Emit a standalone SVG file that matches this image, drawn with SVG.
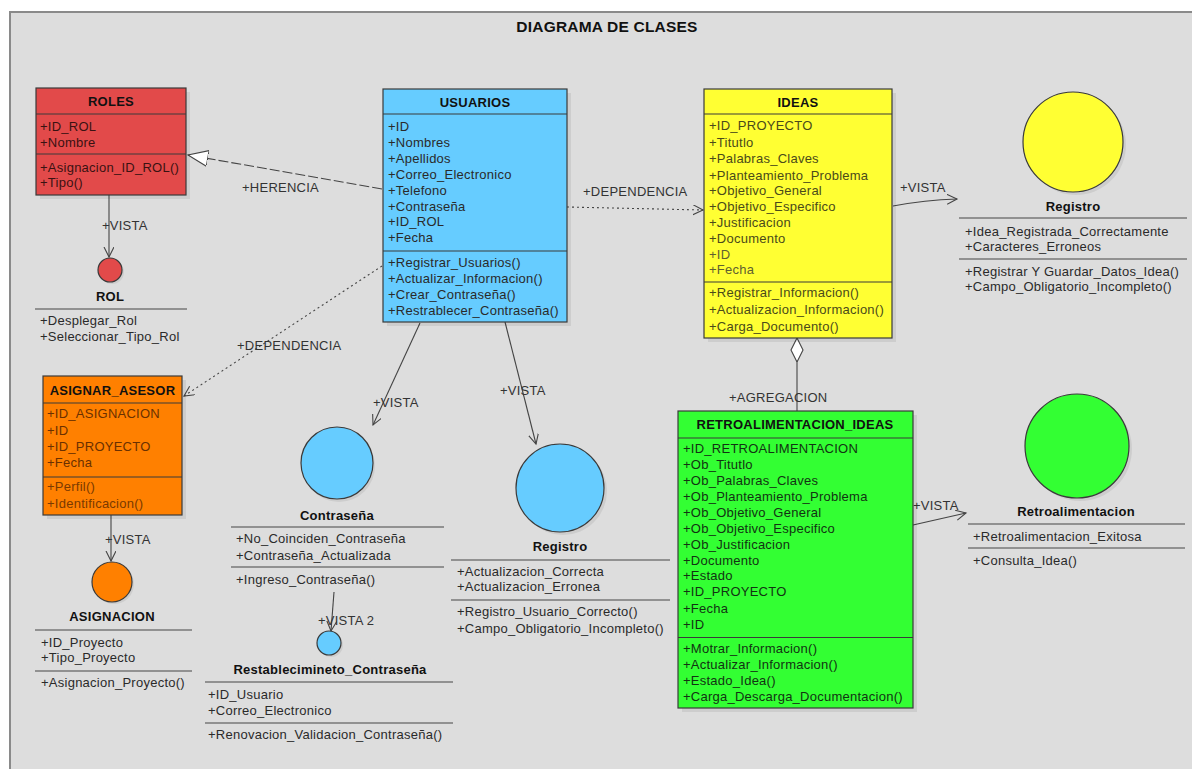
<svg xmlns="http://www.w3.org/2000/svg" width="1192" height="769" viewBox="0 0 1192 769">
<defs>
<style>
text{font-family:"Liberation Sans",Arial,sans-serif;font-size:13px;fill:#2a2a2a;letter-spacing:0.25px}
.h{font-weight:bold;text-anchor:middle;fill:#111}
.lbl{fill:#333}
.box{stroke:#3a3a3a;stroke-width:1.2}
.sep{stroke:#3a3a3a;stroke-width:1.2}
.gl{stroke:#777;stroke-width:1.6}
.sh{fill:#000;opacity:0.07}
.c{stroke:#444;stroke-width:1.1;fill:none}
.dot{stroke-dasharray:2,3}
.dash{stroke-dasharray:10,3}
.red{fill:#e24a4a}.blue{fill:#66ccff}.yel{fill:#ffff33}.ora{fill:#ff8000}.grn{fill:#33ff33}
.ti{fill:#4a4a1a}.tr{fill:#3a1212}.to{fill:#6a3000}.tg{fill:#123312}
</style>
<marker id="open" markerUnits="userSpaceOnUse" markerWidth="14" markerHeight="12" refX="10" refY="5" orient="auto">
<path d="M0,0 L10,5 L0,10" fill="none" stroke="#444" stroke-width="1.1"/>
</marker>
<marker id="tri" markerUnits="userSpaceOnUse" markerWidth="24" markerHeight="20" refX="20" refY="9" orient="auto">
<path d="M0,1 L20,9 L0,17 Z" fill="#fff" stroke="#444" stroke-width="1.1"/>
</marker>
<marker id="dia" markerUnits="userSpaceOnUse" markerWidth="28" markerHeight="16" refX="24" refY="7" orient="auto">
<path d="M0,7 L12,1 L24,7 L12,13 Z" fill="#fff" stroke="#444" stroke-width="1.1"/>
</marker>
</defs>

<rect x="0" y="0" width="1192" height="769" fill="#ffffff"/>
<rect x="10" y="12" width="1190" height="770" fill="#dddddd" stroke="#8a8a8a" stroke-width="2"/>
<text x="607" y="32" class="h" style="font-size:15.5px;letter-spacing:0.2px">DIAGRAMA DE CLASES</text>

<g id="connectors">
<path class="c" d="M109,195 L109,257" marker-end="url(#open)"/>
<path class="c dash" d="M382,189 L188,155" marker-end="url(#tri)"/>
<path class="c dot" d="M382,266 L184,396" marker-end="url(#open)"/>
<path class="c dot" d="M567,207 L703,210" marker-end="url(#open)"/>
<path class="c" d="M420,323 L373,425" marker-end="url(#open)"/>
<path class="c" d="M505,322 L536,444" marker-end="url(#open)"/>
<path class="c" d="M893,206 Q925,200 957,199" marker-end="url(#open)"/>
<path class="c" d="M797,411 L797,338" marker-end="url(#dia)"/>
<path class="c" d="M913,525 L966,513" marker-end="url(#open)"/>
<path class="c" d="M111,515 L111,561" marker-end="url(#open)"/>
<path class="c" d="M334,592 L331,631" marker-end="url(#open)"/>
<text class="lbl" x="102" y="230">+VISTA</text>
<text class="lbl" x="242" y="192">+HERENCIA</text>
<text class="lbl" x="237" y="349.5">+DEPENDENCIA</text>
<text class="lbl" x="105" y="543.5">+VISTA</text>
<text class="lbl" x="373" y="407">+VISTA</text>
<text class="lbl" x="500" y="394.5">+VISTA</text>
<text class="lbl" x="318" y="624.5">+VISTA 2</text>
<text class="lbl" x="583" y="195.5">+DEPENDENCIA</text>
<text class="lbl" x="900" y="191.5">+VISTA</text>
<text class="lbl" x="729" y="401.5">+AGREGACION</text>
<text class="lbl" x="913" y="509.5">+VISTA</text>
</g>

<g id="roles">
<rect class="sh" x="40" y="92" width="150" height="107"/>
<rect class="box red" x="36" y="88" width="150" height="107"/>
<line class="sep" x1="36" y1="114" x2="186" y2="114"/>
<line class="sep" x1="36" y1="154" x2="186" y2="154"/>
<text class="h" x="111" y="106">ROLES</text>
<text class="tr" x="40" y="131">+ID_ROL</text>
<text class="tr" x="40" y="147">+Nombre</text>
<text class="tr" x="40" y="171.5">+Asignacion_ID_ROL()</text>
<text class="tr" x="40" y="187">+Tipo()</text>
</g>

<g id="rol">
<circle cx="112" cy="272" r="12" class="sh"/>
<circle cx="110" cy="270" r="12" class="box red"/>
<text class="h" x="110" y="301">ROL</text>
<line class="gl" x1="35" y1="309" x2="187" y2="309"/>
<text x="40" y="324.5">+Desplegar_Rol</text>
<text x="40" y="341">+Seleccionar_Tipo_Rol</text>
</g>

<g id="usuarios">
<rect class="sh" x="387" y="93" width="184" height="233"/>
<rect class="box blue" x="383" y="89" width="184" height="233"/>
<line class="sep" x1="383" y1="114" x2="567" y2="114"/>
<line class="sep" x1="383" y1="251" x2="567" y2="251"/>
<text class="h" x="475" y="106.5">USUARIOS</text>
<text x="388" y="131">+ID</text>
<text x="388" y="147">+Nombres</text>
<text x="388" y="163">+Apellidos</text>
<text x="388" y="179">+Correo_Electronico</text>
<text x="388" y="194.5">+Telefono</text>
<text x="388" y="210.5">+Contraseña</text>
<text x="388" y="226">+ID_ROL</text>
<text x="388" y="242">+Fecha</text>
<text x="388" y="267">+Registrar_Usuarios()</text>
<text x="388" y="283">+Actualizar_Informacion()</text>
<text x="388" y="299">+Crear_Contraseña()</text>
<text x="388" y="314.5">+Restrablecer_Contraseña()</text>
</g>

<g id="ideas">
<rect class="sh" x="708" y="93" width="188" height="249"/>
<rect class="box yel" x="704" y="89" width="188" height="249"/>
<line class="sep" x1="704" y1="114" x2="892" y2="114"/>
<line class="sep" x1="704" y1="282" x2="892" y2="282"/>
<text class="h" x="798" y="106.5">IDEAS</text>
<text class="ti" x="709" y="130">+ID_PROYECTO</text>
<text class="ti" x="709" y="146.5">+Titutlo</text>
<text class="ti" x="709" y="163">+Palabras_Claves</text>
<text class="ti" x="709" y="179.5">+Planteamiento_Problema</text>
<text class="ti" x="709" y="195">+Objetivo_General</text>
<text class="ti" x="709" y="211">+Objetivo_Especifico</text>
<text class="ti" x="709" y="227">+Justificacion</text>
<text class="ti" x="709" y="243">+Documento</text>
<text x="709" y="258.5" style="fill:#606030">+ID</text>
<text x="709" y="274" style="fill:#606030">+Fecha</text>
<text class="ti" x="709" y="297">+Registrar_Informacion()</text>
<text class="ti" x="709" y="314">+Actualizacion_Informacion()</text>
<text class="ti" x="709" y="330.5">+Carga_Documento()</text>
</g>

<g id="registro-ideas">
<circle cx="1076" cy="145" r="50" class="sh"/>
<circle cx="1073" cy="142" r="50" class="box yel"/>
<text class="h" x="1073" y="211">Registro</text>
<line class="gl" x1="959" y1="218" x2="1187" y2="218"/>
<text x="965" y="236">+Idea_Registrada_Correctamente</text>
<text x="965" y="251">+Caracteres_Erroneos</text>
<line class="gl" x1="959" y1="259" x2="1187" y2="259"/>
<text x="965" y="276">+Registrar Y Guardar_Datos_Idea()</text>
<text x="965" y="290.5">+Campo_Obligatorio_Incompleto()</text>
</g>

<g id="asignar-asesor">
<rect class="sh" x="47" y="380" width="139" height="139"/>
<rect class="box ora" x="43" y="376" width="139" height="139"/>
<line class="sep" x1="43" y1="403" x2="182" y2="403"/>
<line class="sep" x1="43" y1="477" x2="182" y2="477"/>
<text class="h" x="112.5" y="395">ASIGNAR_ASESOR</text>
<text class="to" x="47" y="418">+ID_ASIGNACION</text>
<text class="to" x="47" y="434.5">+ID</text>
<text class="to" x="47" y="451">+ID_PROYECTO</text>
<text class="to" x="47" y="467">+Fecha</text>
<text x="47" y="491" style="fill:#7a3a00">+Perfil()</text>
<text x="47" y="508" style="fill:#7a3a00">+Identificacion()</text>
</g>

<g id="asignacion">
<circle cx="114" cy="584" r="20" class="sh"/>
<circle cx="112" cy="582" r="20" class="box ora"/>
<text class="h" x="112" y="621">ASIGNACION</text>
<line class="gl" x1="35" y1="630" x2="192" y2="630"/>
<text x="41" y="647">+ID_Proyecto</text>
<text x="41" y="662">+Tipo_Proyecto</text>
<line class="gl" x1="35" y1="671" x2="192" y2="671"/>
<text x="41" y="687">+Asignacion_Proyecto()</text>
</g>

<g id="contrasena">
<circle cx="339" cy="466" r="36" class="sh"/>
<circle cx="337" cy="463" r="36" class="box blue"/>
<text class="h" x="337" y="519.5">Contraseña</text>
<line class="gl" x1="231" y1="527" x2="444" y2="527"/>
<text x="236" y="543">+No_Coinciden_Contraseña</text>
<text x="236" y="559.5">+Contraseña_Actualizada</text>
<line class="gl" x1="231" y1="567" x2="444" y2="567"/>
<text x="236" y="584">+Ingreso_Contraseña()</text>
</g>

<g id="restablecimiento">
<circle cx="331" cy="645" r="12" class="sh"/>
<circle cx="329" cy="643" r="12" class="box blue"/>
<text class="h" x="330" y="673.5">Restablecimineto_Contraseña</text>
<line class="gl" x1="205" y1="682" x2="453" y2="682"/>
<text x="208" y="698.5">+ID_Usuario</text>
<text x="208" y="714.5">+Correo_Electronico</text>
<line class="gl" x1="205" y1="723" x2="453" y2="723"/>
<text x="208" y="739">+Renovacion_Validacion_Contraseña()</text>
</g>

<g id="registro-usuarios">
<circle cx="563" cy="491" r="44" class="sh"/>
<circle cx="560" cy="488" r="44" class="box blue"/>
<text class="h" x="560" y="551">Registro</text>
<line class="gl" x1="451" y1="560" x2="670" y2="560"/>
<text x="457" y="576">+Actualizacion_Correcta</text>
<text x="457" y="590.5">+Actualizacion_Erronea</text>
<line class="gl" x1="451" y1="600" x2="670" y2="600"/>
<text x="457" y="616">+Registro_Usuario_Correcto()</text>
<text x="457" y="632.5">+Campo_Obligatorio_Incompleto()</text>
</g>

<g id="retroalimentacion-ideas">
<rect class="sh" x="682" y="415" width="235" height="297"/>
<rect class="box grn" x="678" y="411" width="235" height="297"/>
<line class="sep" x1="678" y1="438" x2="913" y2="438"/>
<line class="sep" x1="678" y1="637.5" x2="913" y2="637.5"/>
<text class="h" x="795" y="428.5">RETROALIMENTACION_IDEAS</text>
<text class="tg" x="683" y="453">+ID_RETROALIMENTACION</text>
<text class="tg" x="683" y="468.5">+Ob_Titutlo</text>
<text class="tg" x="683" y="484.5">+Ob_Palabras_Claves</text>
<text class="tg" x="683" y="501">+Ob_Planteamiento_Problema</text>
<text class="tg" x="683" y="517">+Ob_Objetivo_General</text>
<text class="tg" x="683" y="533">+Ob_Objetivo_Especifico</text>
<text class="tg" x="683" y="548.5">+Ob_Justificacion</text>
<text class="tg" x="683" y="564.5">+Documento</text>
<text class="tg" x="683" y="580">+Estado</text>
<text class="tg" x="683" y="596">+ID_PROYECTO</text>
<text class="tg" x="683" y="612.5">+Fecha</text>
<text class="tg" x="683" y="628.5">+ID</text>
<text class="tg" x="683" y="653">+Motrar_Informacion()</text>
<text class="tg" x="683" y="669">+Actualizar_Informacion()</text>
<text class="tg" x="683" y="684.5">+Estado_Idea()</text>
<text class="tg" x="683" y="700.5">+Carga_Descarga_Documentacion()</text>
</g>

<g id="retroalimentacion">
<circle cx="1080" cy="449" r="52" class="sh"/>
<circle cx="1077" cy="446" r="52" class="box grn"/>
<text class="h" x="1076" y="516">Retroalimentacion</text>
<line class="gl" x1="968" y1="524" x2="1185" y2="524"/>
<text x="973" y="540.5">+Retroalimentacion_Exitosa</text>
<line class="gl" x1="968" y1="548" x2="1185" y2="548"/>
<text x="973" y="564.5">+Consulta_Idea()</text>
</g>
</svg>
